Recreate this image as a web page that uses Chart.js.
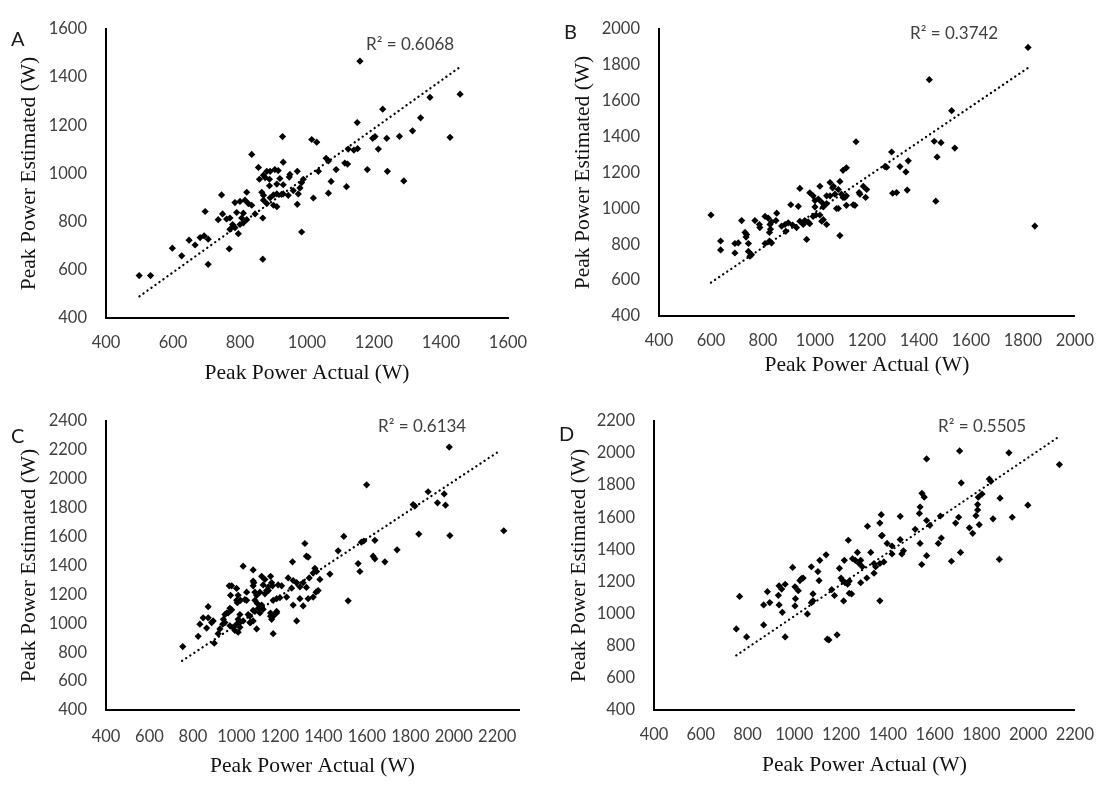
<!DOCTYPE html>
<html lang="en">
<head>
<meta charset="UTF-8">
<title>Peak Power Estimated vs Actual</title>
<script src="https://cdn.jsdelivr.net/npm/chart.js"></script>
<style>
  body { margin: 0; background: #fff; }
  canvas.panel { position: absolute; }
</style>
</head>
<body>
<canvas id="chartA" class="panel" width="555" height="392" style="left:0;top:0"></canvas>
<canvas id="chartB" class="panel" width="554" height="392" style="left:555px;top:0"></canvas>
<canvas id="chartC" class="panel" width="555" height="395" style="left:0;top:392px"></canvas>
<canvas id="chartD" class="panel" width="554" height="395" style="left:555px;top:392px"></canvas>
<script>
// [actual, estimated] peak power in W
const pointsA = [
  [499,576],[533,576],[598,690],[626,658],[648,723],[666,703],[681,734],[693,741],[705,727],[696,842],
  [705,623],[745,911],[735,808],[748,832],[760,811],[768,687],[780,781],[770,815],[778,788],[785,879],
  [800,884],[815,889],[825,875],[835,868],[795,750],[790,838],[810,835],[805,815],[820,808],[810,795],
  [800,788],[820,922],[835,1079],[845,832],[855,1025],[858,976],[865,922],[870,909],[870,993],[875,983],
  [880,1009],[890,1009],[888,976],[888,949],[870,889],[880,875],[868,815],[868,644],[890,899],[900,868],
  [910,862],[900,911],[904,1016],[914,1012],[910,956],[910,915],[919,979],[924,913],[929,953],[929,915],
  [927,1153],[929,1047],[944,909],[949,996],[947,985],[959,929],[971,1009],[974,915],[979,940],[984,962],
  [989,976],[971,872],[984,757],[1014,1141],[1029,1130],[1019,898],[1034,1009],[1057,1063],[1064,1052],[1064,918],
  [1072,967],[1087,1016],[1113,1043],[1121,1039],[1118,945],[1123,1101],[1140,1097],[1151,1103],[1150,1211],[1158,1466],
  [1180,1016],[1196,1146],[1203,1153],[1213,1101],[1226,1267],[1238,1146],[1240,1009],[1276,1154],[1289,969],[1315,1177],
  [1339,1231],[1367,1316],[1427,1150],[1457,1329],[770,768],[785,775]
];
const pointsB = [
  [600,963],[637,818],[637,768],[692,804],[705,807],[692,751],[718,932],[731,866],[737,854],[735,840],
  [744,804],[744,760],[750,733],[756,742],[769,932],[786,910],[788,893],[808,955],[820,946],[827,910],
  [829,884],[833,924],[825,866],[808,804],[833,807],[825,818],[853,973],[850,932],[872,901],[885,910],
  [888,872],[907,1020],[936,1011],[897,919],[914,907],[929,893],[942,928],[955,910],[961,932],[974,924],
  [980,914],[968,827],[942,1111],[980,1087],[993,1070],[1000,1043],[1013,1052],[1019,1123],[1026,1034],[1032,1008],
  [1045,1026],[1058,1070],[1058,1144],[1068,1114],[1077,1079],[1090,1105],[1096,1150],[1102,1079],[1108,1061],[1121,1070],
  [1121,1017],[1154,1017],[1108,1212],[1121,1226],[1090,999],[1096,848],[1000,1008],[1004,963],[993,955],[1019,963],
  [1026,928],[1045,910],[1173,1079],[1186,1123],[1199,1105],[1195,1061],[1158,1371],[1147,1020],[1071,1123],[1045,1070],
  [1032,937],[1269,1233],[1276,1229],[1295,1314],[1299,1084],[1314,1088],[1327,1233],[1350,1203],[1355,1102],[1359,1265],
  [1440,1717],[1459,1374],[1485,1366],[1470,1286],[1465,1040],[1526,1544],[1538,1336],[1820,1897],[1846,901],[1170,1088],
  [1115,1061],[1083,999]
];
const pointsC = [
  [753,839],[824,910],[832,994],[847,1038],[870,1038],[893,1016],[870,1115],[863,967],[898,862],[916,928],
  [924,961],[937,994],[947,1060],[962,1071],[970,1104],[967,1259],[973,1193],[1001,1241],[970,983],[985,972],
  [1001,994],[1008,1027],[993,950],[1008,938],[1016,972],[1004,1142],[1019,1159],[1031,1395],[1047,1159],[1054,1060],
  [1065,1005],[1077,1016],[1077,1369],[1080,1281],[1093,1193],[1085,1159],[1096,1137],[1085,1082],[1101,1104],[1093,961],
  [1116,1325],[1131,1303],[1139,1226],[1157,1325],[1166,1259],[1169,1159],[1185,1082],[1169,928],[1157,1049],[1599,1958],
  [1494,1601],[1315,1552],[1322,1464],[1330,1458],[1258,1425],[1468,1501],[1575,1561],[1586,1569],[1637,1574],[1629,1464],
  [1637,1446],[1683,1425],[1739,1508],[1560,1413],[1568,1358],[1430,1340],[1361,1380],[1369,1358],[1353,1347],[1384,1303],
  [1077,1292],[1077,1259],[978,1259],[1123,1265],[1162,1281],[1147,1252],[1192,1265],[1208,1259],[1238,1314],[1261,1296],
  [1277,1281],[1254,1243],[1292,1252],[1322,1248],[1307,1281],[1335,1314],[1008,1193],[1047,1215],[1085,1215],[1108,1215],
  [1131,1204],[1147,1226],[1001,1159],[1039,1164],[1185,1170],[1200,1177],[1231,1181],[1261,1126],[1307,1120],[1292,1170],
  [1330,1170],[1353,1181],[1366,1215],[1376,1226],[1185,1071],[1277,1016],[1514,1155],[886,1005],[955,1071],[978,1093],
  [940,1027],[947,1005],[1016,1060],[1016,1005],[1031,1016],[1062,1049],[1062,1005],[1116,1126],[1123,1097],[1108,1071],
  [1157,1071],[1169,1049],[1162,1027],[1077,1089],[1979,2219],[1882,1910],[1956,1895],[1962,1817],[1925,1833],[1813,1821],
  [1821,1811],[2230,1640],[1839,1617],[1982,1607]
];
const pointsD = [
  [752,905],[766,1107],[796,855],[869,930],[869,1054],[895,1069],[885,1137],[932,1114],[935,1054],[949,1008],
  [935,1173],[946,1153],[961,1183],[961,855],[993,1288],[1005,1093],[1003,1048],[1003,1167],[1017,1143],[1024,1206],
  [1031,1218],[1038,1222],[1056,998],[1073,1292],[1080,1123],[1080,1080],[1073,1068],[1109,1332],[1101,1262],[1106,1206],
  [1136,1366],[1141,841],[1148,836],[1183,868],[1160,1149],[1172,1113],[1193,1282],[1200,1222],[1207,1206],[1214,1332],
  [1217,1193],[1228,1183],[1245,1123],[1235,1203],[1249,1342],[1261,1332],[1270,1381],[1277,1312],[1284,1332],[1291,1292],
  [1310,1222],[1327,1381],[1341,1312],[1341,1252],[1348,1292],[1366,1312],[1383,1322],[1211,1079],[1235,1127],[1284,1193],
  [1231,1457],[1313,1544],[1366,1564],[1372,1616],[1373,1485],[1397,1437],[1418,1421],[1418,1372],[1453,1606],[1453,1461],
  [1467,1391],[1460,1372],[1366,1080],[1538,1664],[1535,1624],[1566,1580],[1580,1550],[1625,1608],[1517,1525],[1538,1437],
  [1566,1361],[1545,1306],[1629,1471],[1616,1437],[1672,1326],[1711,1381],[1690,1564],[1703,1600],[1749,1534],[1763,1500],
  [1707,2013],[1566,1963],[1918,2001],[2134,1928],[1714,1814],[1834,1838],[1841,1824],[1803,1745],[1787,1725],[1784,1679],
  [1784,1646],[1777,1610],[1880,1719],[1999,1675],[1932,1600],[1850,1590],[1791,1554],[1877,1338],[1546,1749],[1556,1725],
  [1376,1487]
];

// dotted linear trend lines, start and end points
const trendA = [[500,490],[1460,1445]];
const trendB = [[600,586],[1830,1793]];
const trendC = [[750,740],[2215,2197]];
const trendD = [[752,740],[2136,2106]];

const panelLetters = ['A', 'B', 'C', 'D'];
const r2Labels = ['R² = 0.6068', 'R² = 0.3742', 'R² = 0.6134', 'R² = 0.5505'];

// axis maxima (C's x axis runs past its last labelled tick)
const xMaxA = 1600, yMaxA = 1600;
const xMaxB = 2000, yMaxB = 2000;
const xMaxC = 2300, yMaxC = 2400;
const xMaxD = 2200, yMaxD = 2200;

const xTitle = 'Peak Power Actual (W)';
const yTitle = 'Peak Power Estimated (W)';

const tickFont = { family: 'Lato', size: 16.5 };
const titleFont = { family: 'Liberation Serif', size: 21.5, lineHeight: 1.2 };

// letter and R² text drawn on top of each panel
const panelText = {
  id: 'panelText',
  afterDraw(chart, args, o) {
    const c = chart.ctx;
    c.save();
    c.textBaseline = 'middle';
    c.textAlign = 'left';
    c.fillStyle = '#1a1a1a';
    c.font = '20px Lato';
    c.fillText(o.letter, o.letterX, o.letterY);
    c.fillStyle = '#404040';
    c.font = '17px Lato';
    c.fillText(o.r2, o.r2X, o.r2Y);
    c.restore();
  }
};

function toXY(arr) {
  return arr.map(([x, y]) => ({ x, y }));
}

function plainTick(v) {
  return String(v);
}

function buildPanel(id, p) {
  return new Chart(document.getElementById(id), {
    type: 'scatter',
    data: {
      datasets: [
        {
          data: toXY(p.points),
          pointStyle: 'rectRot',
          pointRadius: 3.6,
          backgroundColor: '#000',
          borderWidth: 0,
          order: 1
        },
        {
          type: 'line',
          data: toXY(p.trend),
          borderColor: '#000',
          borderWidth: 2.3,
          borderDash: [0.1, 4.8],
          borderCapStyle: 'round',
          pointRadius: 0,
          fill: false,
          order: 0
        }
      ]
    },
    options: {
      responsive: false,
      animation: false,
      events: [],
      layout: { padding: { left: 0, top: p.padTop, right: p.padRight, bottom: 0 } },
      plugins: {
        legend: { display: false },
        tooltip: { enabled: false },
        panelText: p.text
      },
      scales: {
        x: {
          type: 'linear',
          min: 400,
          max: p.xMax,
          grid: { display: false, drawTicks: false },
          border: { display: true, color: '#000', width: 2 },
          ticks: {
            stepSize: 200, includeBounds: false, autoSkip: false, maxRotation: 0,
            padding: p.xTickPad, font: tickFont, color: '#404040', callback: plainTick
          },
          title: { display: true, text: xTitle, font: titleFont, color: '#111', padding: { top: 0, bottom: p.xTitlePad } },
          afterFit: s => { s.height = p.xAxisH; }
        },
        y: {
          type: 'linear',
          min: 400,
          max: p.yMax,
          grid: { display: false, drawTicks: false },
          border: { display: true, color: '#000', width: 2 },
          ticks: { stepSize: 200, autoSkip: false, padding: 19, font: tickFont, color: '#404040', callback: plainTick },
          title: { display: true, text: yTitle, font: titleFont, color: '#111', padding: { top: p.yTitlePad, bottom: 0 } },
          afterFit: s => { s.width = p.yAxisW; }
        }
      }
    },
    plugins: [panelText]
  });
}

buildPanel('chartA', {
  points: pointsA, trend: trendA, xMax: xMaxA, yMax: yMaxA,
  padTop: 20, padRight: 47, yAxisW: 106, xAxisH: 74,
  xTickPad: 15, xTitlePad: 6, yTitlePad: 16,
  text: { letter: panelLetters[0], letterX: 11, letterY: 40, r2: r2Labels[0], r2X: 366, r2Y: 45 }
});
buildPanel('chartB', {
  points: pointsB, trend: trendB, xMax: xMaxB, yMax: yMaxB,
  padTop: 15, padRight: 33, yAxisW: 104, xAxisH: 76,
  xTickPad: 15, xTitlePad: 14, yTitlePad: 15,
  text: { letter: panelLetters[1], letterX: 9, letterY: 33, r2: r2Labels[1], r2X: 355, r2Y: 34 }
});
buildPanel('chartC', {
  points: pointsC, trend: trendC, xMax: xMaxC, yMax: yMaxC,
  padTop: 24, padRight: 36, yAxisW: 106, xAxisH: 77,
  xTickPad: 17, xTitlePad: 8, yTitlePad: 16,
  text: { letter: panelLetters[2], letterX: 11, letterY: 45, r2: r2Labels[2], r2X: 378, r2Y: 35 }
});
buildPanel('chartD', {
  points: pointsD, trend: trendD, xMax: xMaxD, yMax: yMaxD,
  padTop: 24, padRight: 29, yAxisW: 99, xAxisH: 77,
  xTickPad: 15, xTitlePad: 9, yTitlePad: 11,
  text: { letter: panelLetters[3], letterX: 4, letterY: 43, r2: r2Labels[3], r2X: 383, r2Y: 35 }
});
</script>
</body>
</html>
